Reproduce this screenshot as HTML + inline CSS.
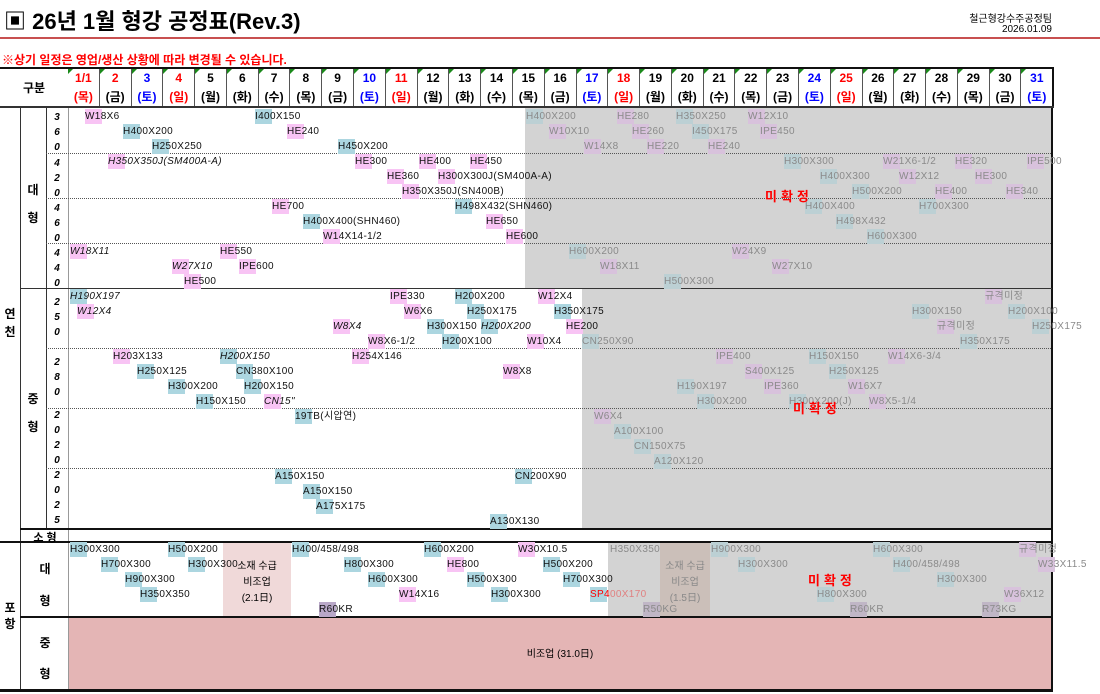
<!DOCTYPE html>
<html><head><meta charset="utf-8"><style>
*{margin:0;padding:0;box-sizing:border-box}
body{width:1100px;height:694px;background:#fff;position:relative;overflow:hidden;font-family:"Liberation Sans","Noto Sans CJK KR",sans-serif;}
.a{position:absolute}
.l{position:absolute;font-size:10px;height:15px;line-height:15px;white-space:nowrap;color:#111;letter-spacing:0.35px}
.p{background:linear-gradient(90deg,#f8c4f4 17px,transparent 17px)}
.b{background:linear-gradient(90deg,#acd6e0 17px,transparent 17px)}
.u{background:linear-gradient(90deg,#b9a8c8 17px,transparent 17px)}
.g{color:#8a8a8a}
.g.p{background:linear-gradient(90deg,#d8c2dc 17px,transparent 17px)}
.g.b{background:linear-gradient(90deg,#bcd0d4 17px,transparent 17px)}
.g.u{background:linear-gradient(90deg,#c0b6c6 17px,transparent 17px)}
.it{font-style:italic}
.hd{position:absolute;top:67px;left:68px;width:986px;height:41px;display:flex;border-top:2px solid #111;border-bottom:2px solid #333}
.hd div{flex:1;border-right:1px solid #555;text-align:center;font-weight:bold;font-size:12px;line-height:19px;position:relative}
.hd div:last-child{border-right:2px solid #111}
.hd div:before{content:"";position:absolute;left:0;top:0;border-top:5px solid #1a8a1a;border-right:5px solid transparent}
.r{color:#f00}.bl{color:#00f}
.vl{position:absolute;background:#333;width:1px}
.hl{position:absolute;background:#333;height:1px}
.dt{position:absolute;height:0;border-top:1px dotted #555}
.n{position:absolute;font-size:10px;font-weight:bold;font-style:italic;width:22px;text-align:center;line-height:15px}
.k{position:absolute;font-size:12px;font-weight:bold;text-align:center}
.mi{position:absolute;color:#f00;font-weight:bold;font-size:13px;letter-spacing:4px}
</style></head><body>
<div class="a" style="left:4px;top:4px;font-size:22px;font-weight:bold;">▣ 26년 1월 형강 공정표(Rev.3)</div>
<div class="a" style="left:900px;width:152px;text-align:right;top:10px;font-size:10px;">철근형강수주공정팀</div>
<div class="a" style="left:900px;width:152px;text-align:right;top:24px;font-size:10px;">2026.01.09</div>
<div class="a" style="left:0;top:37px;width:1100px;height:2px;background:#c85050"></div>
<div class="a" style="left:2px;top:51px;font-size:12px;font-weight:bold;color:#f00">※상기 일정은 영업/생산 상황에 따라 변경될 수 있습니다.</div>
<div class="a" style="left:0;top:67px;width:68px;height:41px;border-top:2px solid #111;border-bottom:2px solid #333;font-size:12px;font-weight:bold;text-align:center;line-height:38px">구분</div>
<div class="hd">
<div><span class="r">1/1<br>(목)</span></div><div><span class="r">2</span><br>(금)</div><div><span class="bl">3<br>(토)</span></div><div><span class="r">4<br>(일)</span></div><div>5<br>(월)</div><div>6<br>(화)</div><div>7<br>(수)</div><div>8<br>(목)</div><div>9<br>(금)</div><div><span class="bl">10<br>(토)</span></div><div><span class="r">11<br>(일)</span></div><div>12<br>(월)</div><div>13<br>(화)</div><div>14<br>(수)</div><div>15<br>(목)</div><div>16<br>(금)</div><div><span class="bl">17<br>(토)</span></div><div><span class="r">18<br>(일)</span></div><div>19<br>(월)</div><div>20<br>(화)</div><div>21<br>(수)</div><div>22<br>(목)</div><div>23<br>(금)</div><div><span class="bl">24<br>(토)</span></div><div><span class="r">25<br>(일)</span></div><div>26<br>(월)</div><div>27<br>(화)</div><div>28<br>(수)</div><div>29<br>(목)</div><div>30<br>(금)</div><div><span class="bl">31<br>(토)</span></div>
</div>
<div class="a" style="left:525px;top:108px;width:527px;height:180px;background:#d3d3d3"></div>
<div class="a" style="left:582px;top:288px;width:470px;height:240px;background:#d3d3d3"></div>
<div class="a" style="left:608px;top:541px;width:444px;height:75px;background:#d3d3d3"></div>
<div class="a" style="left:660px;top:541px;width:50px;height:75px;background:#cbbfb9"></div>
<div class="a" style="left:223px;top:541px;width:68px;height:75px;background:#f0d9d9"></div>
<div class="a" style="left:68px;top:616px;width:984px;height:74px;background:#e4b5b5"></div>
<div class="vl" style="left:20px;top:108px;height:420px"></div>
<div class="vl" style="left:46px;top:108px;height:420px"></div>
<div class="vl" style="left:68px;top:108px;height:582px;background:#999"></div>
<div class="vl" style="left:1051px;top:108px;height:582px;width:2px;background:#111"></div>
<div class="vl" style="left:20px;top:528px;height:162px"></div>
<div class="hl" style="left:20px;top:288px;width:1032px"></div>
<div class="hl" style="left:20px;top:528px;width:1032px;height:2px;background:#111"></div>
<div class="hl" style="left:0;top:541px;width:1052px;height:2px;background:#111"></div>
<div class="hl" style="left:20px;top:616px;width:1032px;height:2px;background:#111"></div>
<div class="hl" style="left:0;top:689px;width:1053px;height:3px;background:#111"></div>
<div class="dt" style="left:46px;top:153px;width:1005px"></div>
<div class="dt" style="left:46px;top:198px;width:1005px"></div>
<div class="dt" style="left:46px;top:243px;width:1005px"></div>
<div class="dt" style="left:46px;top:348px;width:1005px"></div>
<div class="dt" style="left:46px;top:408px;width:1005px"></div>
<div class="dt" style="left:46px;top:468px;width:1005px"></div>
<div class="k" style="left:2px;top:305px;width:16px;line-height:18px">연<br>천</div>
<div class="k" style="left:2px;top:600px;width:16px;line-height:16px">포<br>항</div>
<div class="k" style="left:22px;top:176px;width:22px;line-height:28px">대<br>형</div>
<div class="k" style="left:22px;top:385px;width:22px;line-height:28px">중<br>형</div>
<div class="a" style="left:22px;top:529px;width:46px;font-size:11px;font-weight:bold;text-align:center">소 형</div>
<div class="k" style="left:22px;top:553px;width:46px;line-height:32px">대<br>형</div>
<div class="k" style="left:22px;top:628px;width:46px;line-height:31px">중<br>형</div>
<div class="n" style="left:46px;top:110px">3<br>6<br>0</div>
<div class="n" style="left:46px;top:156px">4<br>2<br>0</div>
<div class="n" style="left:46px;top:201px">4<br>6<br>0</div>
<div class="n" style="left:46px;top:246px">4<br>4<br>0</div>
<div class="n" style="left:46px;top:295px">2<br>5<br>0</div>
<div class="n" style="left:46px;top:355px">2<br>8<br>0</div>
<div class="n" style="left:46px;top:408px">2<br>0<br>2<br>0</div>
<div class="n" style="left:46px;top:468px">2<br>0<br>2<br>5</div>
<div class="l p" style="left:85px;top:109px">W18X6</div>
<div class="l b" style="left:255px;top:109px">I400X150</div>
<div class="l b" style="left:123px;top:124px">H400X200</div>
<div class="l p" style="left:287px;top:124px">HE240</div>
<div class="l b" style="left:152px;top:139px">H250X250</div>
<div class="l b" style="left:338px;top:139px">H450X200</div>
<div class="l g b" style="left:526px;top:109px">H400X200</div>
<div class="l g p" style="left:617px;top:109px">HE280</div>
<div class="l g b" style="left:676px;top:109px">H350X250</div>
<div class="l g p" style="left:748px;top:109px">W12X10</div>
<div class="l g p" style="left:549px;top:124px">W10X10</div>
<div class="l g p" style="left:632px;top:124px">HE260</div>
<div class="l g b" style="left:692px;top:124px">I450X175</div>
<div class="l g p" style="left:760px;top:124px">IPE450</div>
<div class="l g p" style="left:584px;top:139px">W14X8</div>
<div class="l g p" style="left:647px;top:139px">HE220</div>
<div class="l g p" style="left:708px;top:139px">HE240</div>
<div class="l p it" style="left:108px;top:154px">H350X350J(SM400A-A)</div>
<div class="l p" style="left:355px;top:154px">HE300</div>
<div class="l p" style="left:419px;top:154px">HE400</div>
<div class="l p" style="left:470px;top:154px">HE450</div>
<div class="l p" style="left:387px;top:169px">HE360</div>
<div class="l p" style="left:438px;top:169px">H300X300J(SM400A-A)</div>
<div class="l p" style="left:402px;top:184px">H350X350J(SN400B)</div>
<div class="l g b" style="left:784px;top:154px">H300X300</div>
<div class="l g p" style="left:883px;top:154px">W21X6-1/2</div>
<div class="l g p" style="left:955px;top:154px">HE320</div>
<div class="l g p" style="left:1027px;top:154px">IPE500</div>
<div class="l g b" style="left:820px;top:169px">H400X300</div>
<div class="l g p" style="left:899px;top:169px">W12X12</div>
<div class="l g p" style="left:975px;top:169px">HE300</div>
<div class="l g b" style="left:852px;top:184px">H500X200</div>
<div class="l g p" style="left:935px;top:184px">HE400</div>
<div class="l g p" style="left:1006px;top:184px">HE340</div>
<div class="l p" style="left:272px;top:199px">HE700</div>
<div class="l b" style="left:455px;top:199px">H498X432(SHN460)</div>
<div class="l b" style="left:303px;top:214px">H400X400(SHN460)</div>
<div class="l p" style="left:486px;top:214px">HE650</div>
<div class="l p" style="left:323px;top:229px">W14X14-1/2</div>
<div class="l p" style="left:506px;top:229px">HE600</div>
<div class="l g b" style="left:805px;top:199px">H400X400</div>
<div class="l g b" style="left:919px;top:199px">H700X300</div>
<div class="l g b" style="left:836px;top:214px">H498X432</div>
<div class="l g b" style="left:867px;top:229px">H600X300</div>
<div class="l p it" style="left:70px;top:244px">W18X11</div>
<div class="l p" style="left:220px;top:244px">HE550</div>
<div class="l p it" style="left:172px;top:259px">W27X10</div>
<div class="l p" style="left:239px;top:259px">IPE600</div>
<div class="l p" style="left:184px;top:274px">HE500</div>
<div class="l g b" style="left:569px;top:244px">H600X200</div>
<div class="l g p" style="left:732px;top:244px">W24X9</div>
<div class="l g p" style="left:600px;top:259px">W18X11</div>
<div class="l g p" style="left:772px;top:259px">W27X10</div>
<div class="l g b" style="left:664px;top:274px">H500X300</div>
<div class="mi" style="left:765px;top:186px">미확정</div>
<div class="l b it" style="left:70px;top:289px">H190X197</div>
<div class="l p" style="left:390px;top:289px">IPE330</div>
<div class="l b" style="left:455px;top:289px">H200X200</div>
<div class="l p" style="left:538px;top:289px">W12X4</div>
<div class="l p it" style="left:77px;top:304px">W12X4</div>
<div class="l p" style="left:404px;top:304px">W6X6</div>
<div class="l b" style="left:467px;top:304px">H250X175</div>
<div class="l b" style="left:554px;top:304px">H350X175</div>
<div class="l p it" style="left:333px;top:319px">W8X4</div>
<div class="l b" style="left:427px;top:319px">H300X150</div>
<div class="l b it" style="left:481px;top:319px">H200X200</div>
<div class="l p" style="left:566px;top:319px">HE200</div>
<div class="l p" style="left:368px;top:334px">W8X6-1/2</div>
<div class="l b" style="left:442px;top:334px">H200X100</div>
<div class="l p" style="left:527px;top:334px">W10X4</div>
<div class="l g b" style="left:582px;top:334px">CN250X90</div>
<div class="l g p" style="left:985px;top:289px">규격미정</div>
<div class="l g b" style="left:912px;top:304px">H300X150</div>
<div class="l g b" style="left:1008px;top:304px">H200X100</div>
<div class="l g p" style="left:937px;top:319px">규격미정</div>
<div class="l g b" style="left:1032px;top:319px">H250X175</div>
<div class="l g b" style="left:960px;top:334px">H350X175</div>
<div class="l p" style="left:113px;top:349px">H203X133</div>
<div class="l b it" style="left:220px;top:349px">H200X150</div>
<div class="l p" style="left:352px;top:349px">H254X146</div>
<div class="l b" style="left:137px;top:364px">H250X125</div>
<div class="l b" style="left:236px;top:364px">CN380X100</div>
<div class="l p" style="left:503px;top:364px">W8X8</div>
<div class="l b" style="left:168px;top:379px">H300X200</div>
<div class="l b" style="left:244px;top:379px">H200X150</div>
<div class="l b" style="left:196px;top:394px">H150X150</div>
<div class="l p it" style="left:264px;top:394px">CN15"</div>
<div class="l g p" style="left:716px;top:349px">IPE400</div>
<div class="l g b" style="left:809px;top:349px">H150X150</div>
<div class="l g p" style="left:888px;top:349px">W14X6-3/4</div>
<div class="l g p" style="left:745px;top:364px">S400X125</div>
<div class="l g b" style="left:829px;top:364px">H250X125</div>
<div class="l g b" style="left:677px;top:379px">H190X197</div>
<div class="l g p" style="left:764px;top:379px">IPE360</div>
<div class="l g p" style="left:848px;top:379px">W16X7</div>
<div class="l g b" style="left:697px;top:394px">H300X200</div>
<div class="l g b" style="left:789px;top:394px">H300X200(J)</div>
<div class="l g p" style="left:869px;top:394px">W8X5-1/4</div>
<div class="mi" style="left:793px;top:398px">미확정</div>
<div class="l b" style="left:295px;top:409px">19TB(시압연)</div>
<div class="l g p" style="left:594px;top:409px">W6X4</div>
<div class="l g b" style="left:614px;top:424px">A100X100</div>
<div class="l g b" style="left:634px;top:439px">CN150X75</div>
<div class="l g b" style="left:654px;top:454px">A120X120</div>
<div class="l b" style="left:275px;top:469px">A150X150</div>
<div class="l b" style="left:515px;top:469px">CN200X90</div>
<div class="l b" style="left:303px;top:484px">A150X150</div>
<div class="l b" style="left:316px;top:499px">A175X175</div>
<div class="l b" style="left:490px;top:514px">A130X130</div>
<div class="l b" style="left:70px;top:542px">H300X300</div>
<div class="l b" style="left:168px;top:542px">H500X200</div>
<div class="l b" style="left:292px;top:542px">H400/458/498</div>
<div class="l b" style="left:424px;top:542px">H600X200</div>
<div class="l p" style="left:518px;top:542px">W30X10.5</div>
<div class="l g" style="left:610px;top:542px">H350X350</div>
<div class="l g b" style="left:711px;top:542px">H900X300</div>
<div class="l g b" style="left:873px;top:542px">H600X300</div>
<div class="l g p" style="left:1019px;top:542px">규격미정</div>
<div class="l b" style="left:101px;top:557px">H700X300</div>
<div class="l b" style="left:188px;top:557px">H300X300</div>
<div class="l b" style="left:344px;top:557px">H800X300</div>
<div class="l p" style="left:447px;top:557px">HE800</div>
<div class="l b" style="left:543px;top:557px">H500X200</div>
<div class="l g b" style="left:738px;top:557px">H300X300</div>
<div class="l g b" style="left:893px;top:557px">H400/458/498</div>
<div class="l g p" style="left:1038px;top:557px">W33X11.5</div>
<div class="l b" style="left:125px;top:572px">H900X300</div>
<div class="l b" style="left:368px;top:572px">H600X300</div>
<div class="l b" style="left:467px;top:572px">H500X300</div>
<div class="l b" style="left:563px;top:572px">H700X300</div>
<div class="l g b" style="left:937px;top:572px">H300X300</div>
<div class="l b" style="left:140px;top:587px">H350X350</div>
<div class="l p" style="left:399px;top:587px">W14X16</div>
<div class="l b" style="left:491px;top:587px">H300X300</div>
<div class="l b" style="left:590px;top:587px"><span style="color:#f00">SP4</span><span style="color:#e08080">00X170</span></div>
<div class="l g b" style="left:817px;top:587px">H800X300</div>
<div class="l g p" style="left:1004px;top:587px">W36X12</div>
<div class="l u" style="left:319px;top:602px">R60KR</div>
<div class="l g u" style="left:643px;top:602px">R50KG</div>
<div class="l g u" style="left:850px;top:602px">R60KR</div>
<div class="l g u" style="left:982px;top:602px">R73KG</div>
<div class="a" style="left:223px;top:559px;width:68px;text-align:center;font-size:10px;line-height:16px">소재 수급<br>비조업<br>(2.1日)</div>
<div class="a" style="left:660px;top:559px;width:50px;text-align:center;font-size:10px;line-height:16px;color:#888">소재 수급<br>비조업<br>(1.5日)</div>
<div class="mi" style="left:808px;top:570px">미확정</div>
<div class="a" style="left:68px;top:645px;width:984px;text-align:center;font-size:10px">비조업 (31.0日)</div>
</body></html>
